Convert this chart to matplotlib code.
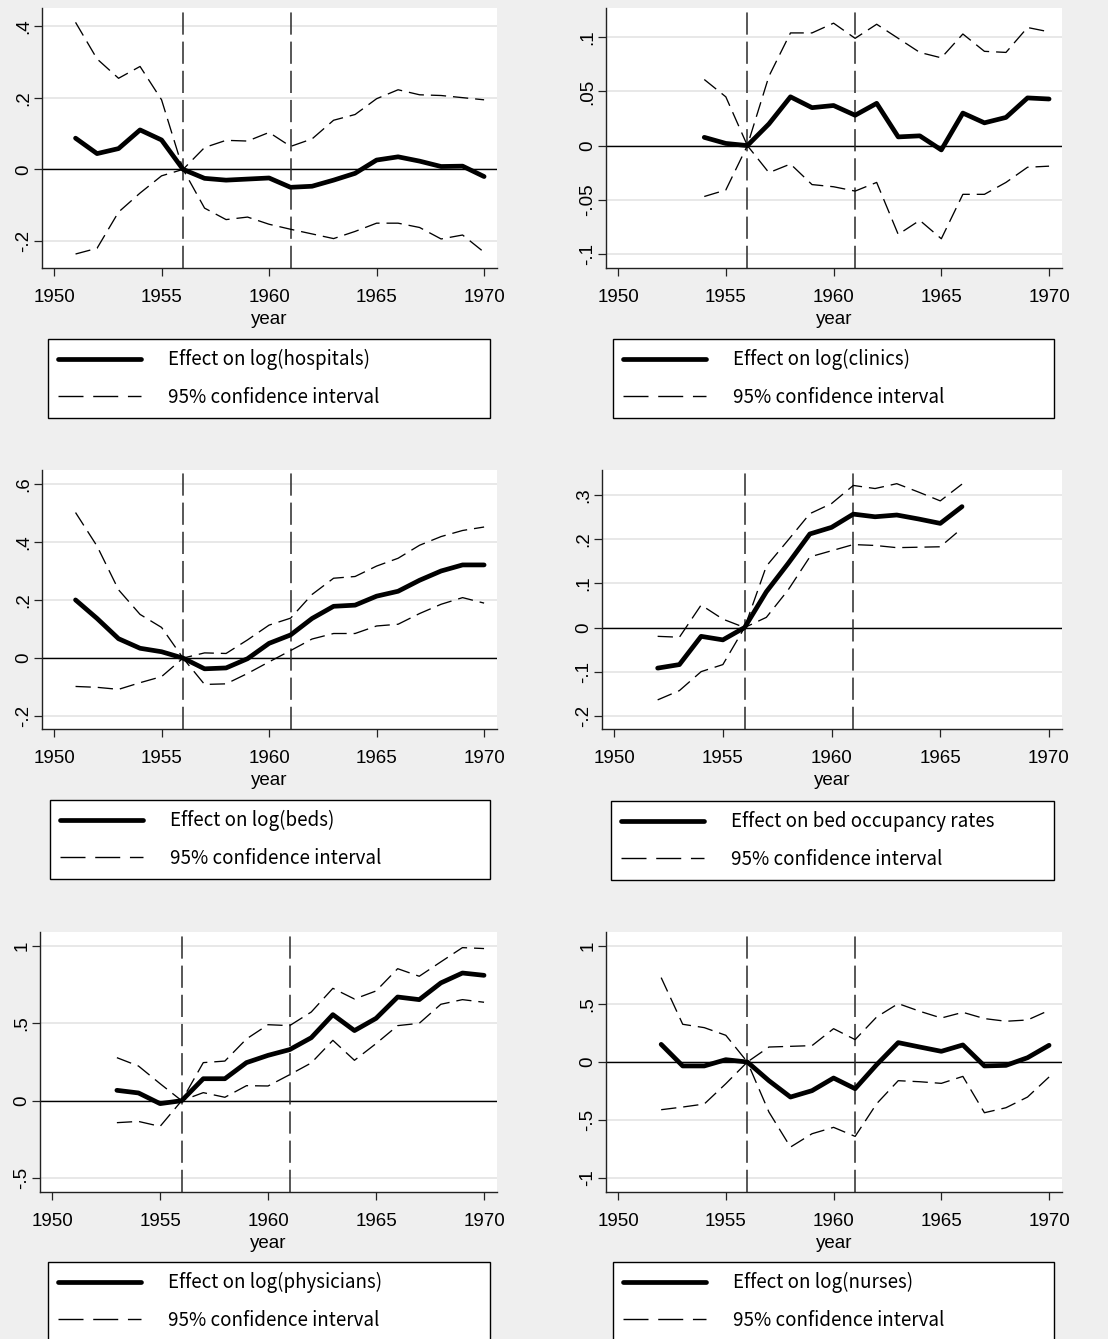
import matplotlib
matplotlib.use("Agg")
import matplotlib.pyplot as plt
from matplotlib.lines import Line2D

# ---- data ----
yrs_hosp = list(range(1951, 1971))
eff_hosp = [0.087, 0.044, 0.058, 0.110, 0.082, 0.0, -0.025, -0.030, -0.027, -0.024,
            -0.050, -0.047, -0.030, -0.011, 0.026, 0.035, 0.023, 0.008, 0.009, -0.020]
hi_hosp = [0.410, 0.308, 0.254, 0.287, 0.194, 0.0, 0.061, 0.081, 0.079, 0.103,
           0.064, 0.085, 0.137, 0.153, 0.197, 0.222, 0.208, 0.206, 0.200, 0.194]
lo_hosp = [-0.236, -0.220, -0.119, -0.066, -0.018, 0.0, -0.108, -0.140, -0.133, -0.153,
           -0.167, -0.180, -0.193, -0.173, -0.150, -0.150, -0.162, -0.194, -0.183, -0.231]

yrs_clin = list(range(1954, 1971))
eff_clin = [0.0076, 0.002, 0.0, 0.020, 0.045, 0.035, 0.037, 0.028, 0.039, 0.008,
            0.009, -0.004, 0.030, 0.021, 0.026, 0.044, 0.043]
hi_clin = [0.061, 0.045, 0.0, 0.064, 0.104, 0.104, 0.113, 0.099, 0.112, 0.099,
           0.086, 0.081, 0.103, 0.087, 0.086, 0.109, 0.105]
lo_clin = [-0.047, -0.041, 0.0, -0.025, -0.017, -0.036, -0.038, -0.042, -0.034, -0.082,
           -0.069, -0.086, -0.045, -0.045, -0.034, -0.020, -0.019]

yrs_beds = list(range(1951, 1971))
eff_beds = [0.201, 0.137, 0.067, 0.034, 0.022, 0.0, -0.037, -0.034, -0.002, 0.051,
            0.080, 0.137, 0.179, 0.183, 0.214, 0.231, 0.269, 0.301, 0.322, 0.322]
hi_beds = [0.503, 0.387, 0.236, 0.151, 0.106, 0.0, 0.018, 0.016, 0.063, 0.114,
           0.138, 0.220, 0.276, 0.282, 0.318, 0.345, 0.390, 0.420, 0.441, 0.453]
lo_beds = [-0.098, -0.101, -0.108, -0.085, -0.064, 0.0, -0.091, -0.089, -0.053, -0.013,
           0.026, 0.066, 0.085, 0.085, 0.111, 0.117, 0.154, 0.186, 0.209, 0.190]

yrs_occ = list(range(1952, 1967))
eff_occ = [-0.092, -0.084, -0.020, -0.028, 0.0, 0.081, 0.145, 0.212, 0.227, 0.257,
           0.251, 0.255, 0.246, 0.236, 0.274]
hi_occ = [-0.020, -0.022, 0.051, 0.019, 0.0, 0.139, 0.198, 0.258, 0.281, 0.322,
          0.315, 0.326, 0.307, 0.287, 0.325]
lo_occ = [-0.164, -0.143, -0.100, -0.084, 0.0, 0.023, 0.085, 0.160, 0.174, 0.188,
          0.186, 0.181, 0.182, 0.183, 0.225]

yrs_phys = list(range(1953, 1971))
eff_phys = [0.067, 0.050, -0.019, 0.0, 0.142, 0.142, 0.246, 0.293, 0.330, 0.407,
            0.556, 0.453, 0.532, 0.670, 0.653, 0.761, 0.825, 0.810]
hi_phys = [0.278, 0.224, 0.110, 0.0, 0.246, 0.256, 0.399, 0.491, 0.485, 0.573,
           0.726, 0.657, 0.709, 0.853, 0.804, 0.897, 0.989, 0.983]
lo_phys = [-0.142, -0.134, -0.166, 0.0, 0.052, 0.022, 0.097, 0.095, 0.168, 0.244,
           0.390, 0.261, 0.369, 0.485, 0.500, 0.623, 0.653, 0.636]

yrs_nurs = list(range(1952, 1971))
eff_nurs = [0.152, -0.034, -0.034, 0.020, 0.0, -0.161, -0.302, -0.247, -0.138, -0.230,
            -0.023, 0.167, 0.129, 0.092, 0.147, -0.034, -0.029, 0.037, 0.144]
hi_nurs = [0.727, 0.325, 0.296, 0.230, 0.0, 0.129, 0.135, 0.141, 0.287, 0.193,
           0.388, 0.503, 0.437, 0.379, 0.428, 0.374, 0.351, 0.362, 0.445]
lo_nurs = [-0.411, -0.388, -0.362, -0.187, 0.0, -0.431, -0.733, -0.618, -0.563, -0.641,
           -0.359, -0.161, -0.170, -0.184, -0.124, -0.437, -0.394, -0.302, -0.129]

labels = ["Effect on log(hospitals)", "Effect on log(clinics)", "Effect on log(beds)",
          "Effect on bed occupancy rates", "Effect on log(physicians)", "Effect on log(nurses)"]
yticks = [[-0.2, 0, 0.2, 0.4], [-0.1, -0.05, 0, 0.05, 0.1], [-0.2, 0, 0.2, 0.4, 0.6],
          [-0.2, -0.1, 0, 0.1, 0.2, 0.3], [-0.5, 0, 0.5, 1], [-1, -0.5, 0, 0.5, 1]]
yticklabels = [["-.2", "0", ".2", ".4"], ["-.1", "-.05", "0", ".05", ".1"],
               ["-.2", "0", ".2", ".4", ".6"], ["-.2", "-.1", "0", ".1", ".2", ".3"],
               ["-.5", "0", ".5", "1"], ["-1", "-.5", "0", ".5", "1"]]
ylims = [(-0.275, 0.45), (-0.113, 0.127), (-0.245, 0.65), (-0.23, 0.357),
         (-0.59, 1.09), (-1.12, 1.12)]
series = [(yrs_hosp, eff_hosp, hi_hosp, lo_hosp), (yrs_clin, eff_clin, hi_clin, lo_clin),
          (yrs_beds, eff_beds, hi_beds, lo_beds), (yrs_occ, eff_occ, hi_occ, lo_occ),
          (yrs_phys, eff_phys, hi_phys, lo_phys), (yrs_nurs, eff_nurs, hi_nurs, lo_nurs)]
events = [1956, 1961]

W, H = 1108, 1339
BG = "#efefef"
plt.rcParams["font.family"] = ["Liberation Sans", "DejaVu Sans"]
plt.rcParams["lines.scale_dashes"] = False

fig = plt.figure(figsize=(W / 100, H / 100), dpi=100, facecolor=BG)

# pixel boxes (left, top, right, bottom)
axboxes = [(42, 8, 497, 268), (606, 8, 1062, 268),
           (42, 470, 497, 729), (602, 470, 1062, 729),
           (40, 932, 497, 1192), (606, 932, 1062, 1192)]
legboxes = [(48, 339, 490, 418), (613, 339, 1054, 418),
            (50, 800, 490, 879), (611, 801, 1054, 879),
            (48, 1262, 490, 1341), (613, 1262, 1054, 1341)]


def fbox(b):
    l, t, r, bt = b
    return [l / W, 1 - bt / H, (r - l) / W, (bt - t) / H]


for i in range(6):
    ax = fig.add_axes(fbox(axboxes[i]))
    ax.set_facecolor("white")
    yr, eff, hi, lo = series[i]
    for yv in yticks[i]:
        ax.axhline(yv, color="#e6e6e6", lw=1.3, zorder=0)
    ax.axhline(0, color="black", lw=1.0, zorder=1)
    for e in events:
        ax.axvline(e, color="#2a2a2a", lw=1.1, dashes=(16, 5), zorder=1)
    ax.plot(yr, hi, color="black", lw=0.95, dashes=(11, 5), zorder=2)
    ax.plot(yr, lo, color="black", lw=0.95, dashes=(11, 5), zorder=2)
    ax.plot(yr, eff, color="black", lw=3.4, solid_capstyle="round",
            solid_joinstyle="round", zorder=3)
    ax.set_xlim(1949.44, 1970.6)
    ax.set_ylim(*ylims[i])
    ax.set_xticks([1950, 1955, 1960, 1965, 1970])
    ax.set_yticks(yticks[i])
    ax.set_yticklabels(yticklabels[i], rotation=90, va="center")
    ax.tick_params(labelsize=13.5, length=6, width=0.9, direction="out", color="#222222")
    ax.tick_params(axis="x", pad=9)
    ax.tick_params(axis="y", pad=1)
    ax.spines["top"].set_visible(False)
    ax.spines["right"].set_visible(False)
    for s in ("left", "bottom"):
        ax.spines[s].set_linewidth(1.0)
        ax.spines[s].set_color("#222222")
    ax.set_xlabel("year", fontsize=13.5, labelpad=4)

    handles = [Line2D([], [], color="black", lw=3.4, solid_capstyle="round"),
               Line2D([], [], color="black", lw=1.0, dashes=(18, 7))]
    lb = fbox(legboxes[i])
    leg = fig.legend(handles, [labels[i], "95% confidence interval"],
                     bbox_to_anchor=lb, bbox_transform=fig.transFigure,
                     loc="upper left", mode="expand", ncol=1,
                     prop={"family": ["Noto Sans CJK JP", "DejaVu Sans"], "size": 13.5},
                     handlelength=4.4, handletextpad=1.45, borderpad=0.55,
                     labelspacing=0.88, borderaxespad=0, fancybox=False,
                     frameon=True, edgecolor="black", facecolor="white", framealpha=1)
    leg.get_frame().set_linewidth(1.0)

fig.savefig("out.png", dpi=100, facecolor=BG)
